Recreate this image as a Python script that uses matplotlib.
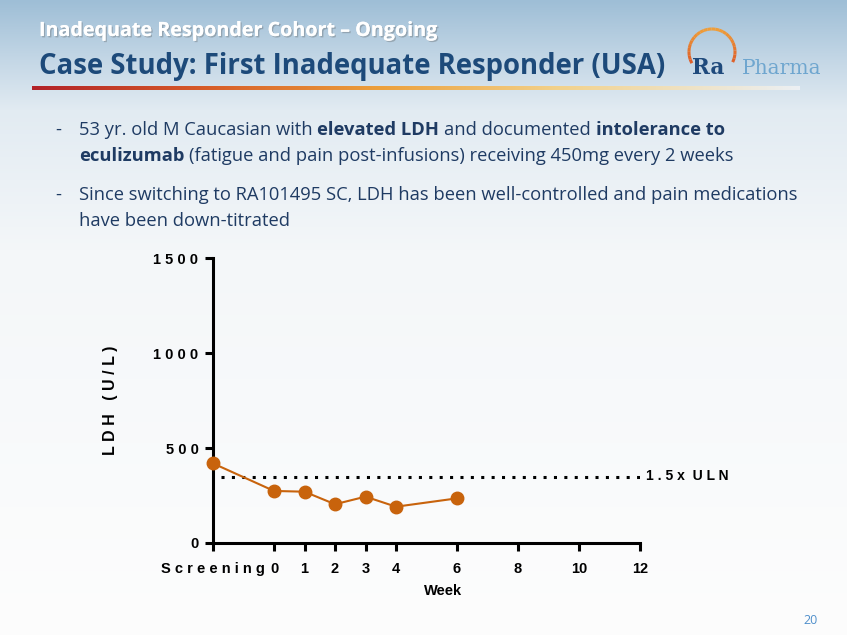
import numpy as np
import matplotlib
matplotlib.use("Agg")
import matplotlib.pyplot as plt
from matplotlib import patches
from matplotlib import patheffects as pe

# ------------------------------------------------------------
# Data
# ------------------------------------------------------------
visit_x = [-2, 0, 1, 2, 3, 4, 6]          # screening drawn two weeks before week 0
ldh_values = [419, 274, 270, 204, 244, 191, 235]

uln_level = 350                            # 1.5 x ULN
uln_span = [-1.75, 12]

x_ticks = [-2, 0, 1, 2, 3, 4, 6, 8, 10, 12]
x_tick_labels = ["S c r e e n i n g", "0", "1", "2", "3", "4", "6", "8", "10", "12"]
y_ticks = [0, 500, 1000, 1500]
y_tick_labels = ["0", "5 0 0", "1 0 0 0", "1 5 0 0"]

subtitle = "Inadequate Responder Cohort \u2013 Ongoing"
title = "Case Study: First Inadequate Responder (USA)"
bullets = [
    [[("53 yr. old M Caucasian with", "normal"), ("elevated LDH", "bold"),
      ("and documented", "normal"), ("intolerance to", "bold")],
     [("eculizumab", "bold"),
      ("(fatigue and pain post-infusions) receiving 450mg every 2 weeks", "normal")]],
    [[("Since switching to RA101495 SC, LDH has been well-controlled and pain medications", "normal")],
     [("have been down-titrated", "normal")]],
]

# ------------------------------------------------------------
# Figure + slide background (pixel coordinates)
# ------------------------------------------------------------
W, H = 847, 635
fig = plt.figure(figsize=(W / 100, H / 100), dpi=100)

bg = fig.add_axes([0, 0, 1, 1], zorder=0)
stops_y = [0, 60, 110, 250, 635]
stops_rgb = np.array([[158, 190, 214], [196, 215, 230], [226, 235, 242],
                      [244, 247, 249], [253, 253, 253]]) / 255
rows = np.arange(H)
grad = np.stack([np.interp(rows, stops_y, stops_rgb[:, c]) for c in range(3)], axis=1)
bg.imshow(grad[:, None, :], extent=[0, W, H, 0], aspect="auto")
bg.set_xlim(0, W)
bg.set_ylim(H, 0)
bg.axis("off")

# subtitle (white with a soft shadow)
bg.text(39, 36, subtitle, fontsize=14.2, fontweight="bold", family="Open Sans",
        color="white", va="baseline",
        path_effects=[pe.withSimplePatchShadow(offset=(1, -1), alpha=0.3), pe.Normal()])

# main title
bg.text(39, 74, title, fontsize=19.8, fontweight="bold", family="Open Sans",
        color="#1d4a7a", va="baseline")

# coloured rule under the title
rule_x = np.linspace(32, 800, 400)
rule_stops = [32, 200, 380, 560, 800]
rule_rgb = np.array([[178, 34, 40], [214, 90, 40], [236, 160, 60],
                     [242, 210, 140], [236, 240, 244]]) / 255
rule_cols = np.stack([np.interp(rule_x, rule_stops, rule_rgb[:, c]) for c in range(3)], axis=1)
bg.imshow(rule_cols[None, :, :], extent=[32, 800, 90, 86], aspect="auto")

# logo: arc + "Ra Pharma"
n_seg = 24
angles = np.linspace(-209, 26, n_seg + 1)
for a0, a1 in zip(angles[:-1], angles[1:]):
    mid = np.deg2rad((a0 + a1) / 2)
    t = (np.sin(mid) + 1) / 2          # 0 at top of the slide, 1 at bottom
    col = (0.94 - 0.10 * t, 0.62 - 0.35 * t, 0.22 - 0.08 * t)
    bg.add_patch(patches.Arc((712, 52), 46, 46, theta1=a0, theta2=a1,
                             color=col, lw=2.2))
bg.text(692, 74, "Ra", family="DejaVu Serif", fontweight="bold",
        fontsize=15.5, color="#1f4a7c", va="baseline")
bg.text(742, 74, "Pharma", family="DejaVu Serif", fontsize=14.5,
        color="#6fa6cf", va="baseline")

# bullets, bold parts chained after the regular parts
body_color = "#1f3b63"
body_size = 13.2
gap_pts = 0.26 * body_size
line_y = [[135, 161], [200, 226]]
for bullet, ys in zip(bullets, line_y):
    bg.text(55, ys[0], "-", fontsize=body_size, family="Open Sans", color=body_color,
            va="baseline")
    for parts, y in zip(bullet, ys):
        prev = None
        for txt, weight in parts:
            if prev is None:
                prev = bg.text(79, y, txt, fontsize=body_size, family="Open Sans",
                               fontweight=weight, color=body_color, va="baseline")
            else:
                prev = bg.annotate(txt, xy=(1, 0), xycoords=prev,
                                   xytext=(gap_pts, 0), textcoords="offset points",
                                   fontsize=body_size, family="Open Sans",
                                   fontweight=weight, color=body_color,
                                   ha="left", va="bottom")

# page number
bg.text(811, 624, "20", fontsize=9, family="Open Sans", color="#4f8fcb",
        ha="center", va="baseline")

# ------------------------------------------------------------
# LDH chart
# ------------------------------------------------------------
ax = fig.add_axes([213 / W, 92 / H, 427 / W, 285 / H], zorder=2)
ax.patch.set_alpha(0)

orange = "#c8630c"
ax.hlines(uln_level, uln_span[0], uln_span[1], colors="black", lw=2.2,
          linestyles=(0, (1, 2.4)), zorder=3)
ax.plot(visit_x, ldh_values, color=orange, lw=1.5, marker="o", ms=9,
        clip_on=False, zorder=5)
ax.annotate("1 . 5 x  U L N", xy=(uln_span[1], uln_level), xytext=(4, 0),
            textcoords="offset points", va="center", ha="left",
            fontsize=10, fontweight="bold", family="Liberation Sans")

ax.set_xlim(-2, 12)
ax.set_ylim(0, 1500)
ax.set_xticks(x_ticks)
ax.set_xticklabels(x_tick_labels)
ax.set_yticks(y_ticks)
ax.set_yticklabels(y_tick_labels)

for side in ["top", "right"]:
    ax.spines[side].set_visible(False)
for side in ["left", "bottom"]:
    ax.spines[side].set_linewidth(2.2)

ax.tick_params(axis="both", width=2.2, length=5.5, direction="out", labelsize=10.5)
ax.tick_params(axis="x", pad=8)
ax.tick_params(axis="y", pad=5)
for lab in ax.get_xticklabels() + ax.get_yticklabels():
    lab.set_fontweight("bold")
    lab.set_family("Liberation Sans")

ax.set_ylabel("L D H   ( U / L )", fontsize=11.5, fontweight="bold",
              family="Liberation Sans")
ax.yaxis.set_label_coords(-0.222, 0.5)
ax.set_xlabel("Week", fontsize=10.5, fontweight="bold", family="Liberation Sans")
ax.xaxis.set_label_coords(0.539, -0.145)

fig.savefig("out.png", dpi=100)
